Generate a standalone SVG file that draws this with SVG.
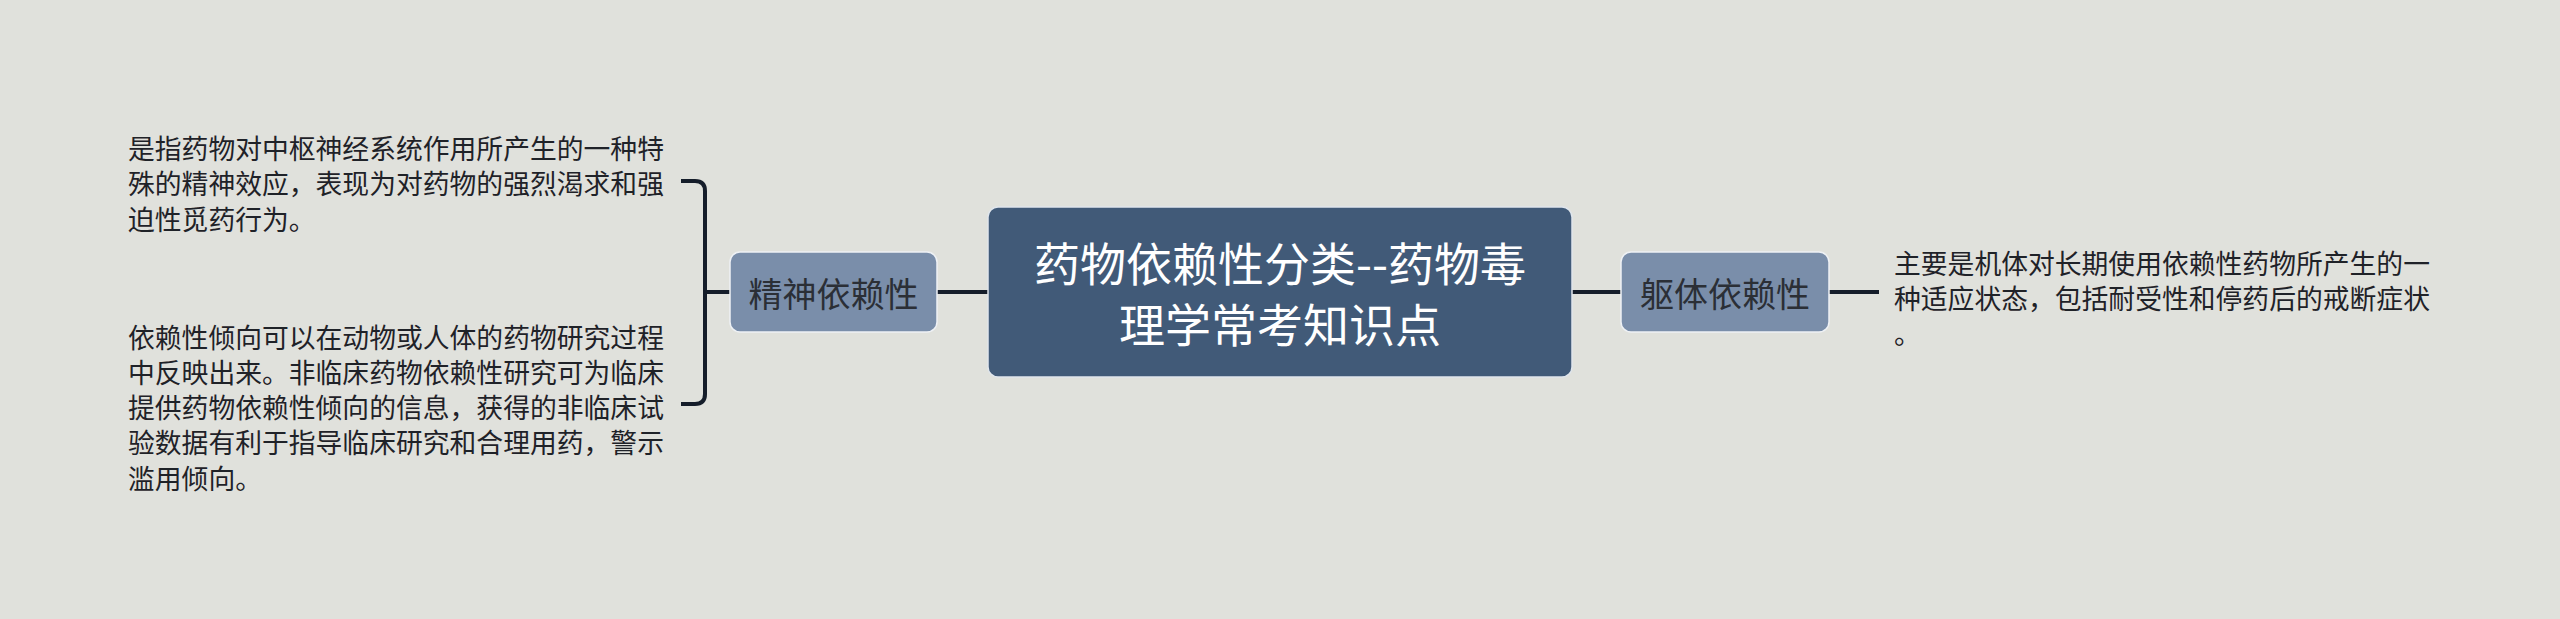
<svg xmlns="http://www.w3.org/2000/svg" width="2560" height="619" viewBox="0 0 2560 619">
<style>
.bg{fill:#e0e1dc}
.root rect{fill:#415a78;stroke:#dfe5ec;stroke-width:1.5}
.root text{fill:#ffffff;font-family:"Noto Sans CJK SC","Noto Sans",sans-serif;font-size:46px;text-anchor:middle;dominant-baseline:central}
.sub rect{fill:#7a8eaa;stroke:#eef1f5;stroke-width:1.5}
.sub text{fill:#2b2f36;font-family:"Noto Sans CJK SC","Noto Sans",sans-serif;font-size:34px;text-anchor:middle;dominant-baseline:central}
.leaf text{fill:#1f2228;font-family:"Noto Sans CJK SC","Noto Sans",sans-serif;font-size:26.8px;dominant-baseline:central}
.conn path{fill:none;stroke:#151d2a;stroke-width:4;stroke-linecap:butt}
</style>
<rect class="bg" x="0" y="0" width="2560" height="619"/>
<g id="connectors" class="conn">
<path d="M937 292 H988"/>
<path d="M1572 292 H1621"/>
<path d="M1829 292 H1879"/>
<path d="M730 292 H705"/>
<path d="M681 181 H695 Q705 181 705 191 V394 Q705 404 695 404 H681"/>
</g>
<g id="root" class="root">
<rect x="988" y="207" width="584" height="170" rx="10"/>
<text x="1280" y="261">药物依赖性分类--药物毒</text>
<text x="1280" y="322">理学常考知识点</text>
</g>
<g id="n-mental" class="sub">
<rect x="730" y="252" width="207" height="80" rx="10"/>
<text x="833.5" y="292">精神依赖性</text>
</g>
<g id="n-physical" class="sub">
<rect x="1621" y="252" width="208" height="80" rx="10"/>
<text x="1725" y="292">躯体依赖性</text>
</g>
<g id="leaf-mental-1" class="leaf">
<text x="128" y="147">是指药物对中枢神经系统作用所产生的一种特</text>
<text x="128" y="182.5">殊的精神效应，表现为对药物的强烈渴求和强</text>
<text x="128" y="218">迫性觅药行为。</text>
</g>
<g id="leaf-mental-2" class="leaf">
<text x="128" y="336">依赖性倾向可以在动物或人体的药物研究过程</text>
<text x="128" y="371.3">中反映出来。非临床药物依赖性研究可为临床</text>
<text x="128" y="406.6">提供药物依赖性倾向的信息，获得的非临床试</text>
<text x="128" y="441.9">验数据有利于指导临床研究和合理用药，警示</text>
<text x="128" y="477.2">滥用倾向。</text>
</g>
<g id="leaf-physical" class="leaf">
<text x="1894" y="262">主要是机体对长期使用依赖性药物所产生的一</text>
<text x="1894" y="297">种适应状态，包括耐受性和停药后的戒断症状</text>
<text x="1894" y="332">。</text>
</g>
</svg>
